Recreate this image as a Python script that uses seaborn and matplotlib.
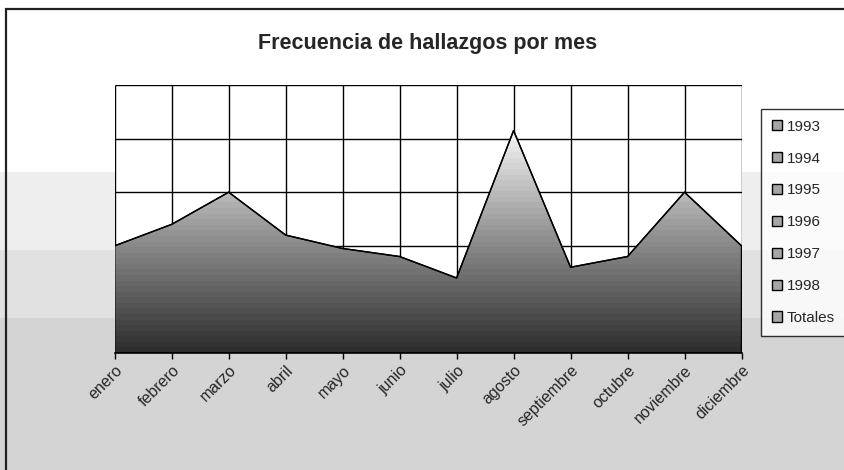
import matplotlib
matplotlib.use("Agg")
import matplotlib.pyplot as plt
import numpy as np
import pandas as pd
import seaborn as sns
from matplotlib.colors import LinearSegmentedColormap
from matplotlib.patches import Patch, Rectangle

meses = ["enero", "febrero", "marzo", "abril", "mayo", "junio", "julio",
         "agosto", "septiembre", "octubre", "noviembre", "diciembre"]
totales = [2.0, 2.4, 3.0, 2.2, 1.95, 1.8, 1.4, 4.15, 1.6, 1.8, 3.0, 2.0]
series = ["1993", "1994", "1995", "1996", "1997", "1998", "Totales"]

sns.set_theme(style="white")
plt.rcParams["font.family"] = ["Liberation Sans", "DejaVu Sans"]

df = pd.DataFrame({"idx": range(len(meses)), "mes": meses, "valor": totales})

fig = plt.figure(figsize=(8.45, 4.70), dpi=100)
fig.patch.set_facecolor("white")

# stepped background bands (old Excel gradient look)
for y0, y1, c in [(0, 152, "#d4d4d4"), (152, 220, "#e1e1e1"), (220, 298, "#eeeeee")]:
    fig.patches.append(Rectangle((0, y0 / 470), 1, (y1 - y0) / 470,
                                 transform=fig.transFigure, facecolor=c,
                                 edgecolor="none", zorder=-10))
fig.patches.append(Rectangle((6 / 845, -0.05), 1.0, (470 - 9) / 470 + 0.05,
                             transform=fig.transFigure, facecolor="none",
                             edgecolor="#222222", linewidth=1.6, zorder=-5))

ax = fig.add_axes([114.7 / 845, 1 - 353 / 470, (741.5 - 114.7) / 845, 268 / 470])
ax.set_facecolor("white")

# gradient fill clipped to the area under the curve
poly = ax.fill_between(df["idx"], 0, df["valor"], facecolor="none",
                       edgecolor="none", zorder=2)
cmap = LinearSegmentedColormap.from_list("g", ["#2e2e2e", "#8c8c8c", "#f4f4f4"])
grad = np.linspace(0, 1, 40).reshape(-1, 1)
img = ax.imshow(grad, extent=[0, 11, 0, max(totales)], origin="lower",
                aspect="auto", cmap=cmap, interpolation="nearest", zorder=2)
img.set_clip_path(poly.get_paths()[0], transform=ax.transData)
ax.fill_between(df["idx"], 0, df["valor"], facecolor="none",
                edgecolor="black", linewidth=1.0, zorder=3)

sns.lineplot(data=df, x="idx", y="valor", color="black", linewidth=1.0,
             ax=ax, zorder=3)

ax.set_xlim(0, 11)
ax.set_ylim(0, 5)
ax.set_xticks(range(len(meses)))
ax.set_xticklabels(meses, rotation=45, ha="right", rotation_mode="anchor",
                   fontsize=11.5)
ax.set_yticks(range(6))
ax.set_yticklabels([])
ax.grid(True, color="black", linewidth=1.0, zorder=0, solid_capstyle="butt")
ax.set_axisbelow(True)
ax.tick_params(axis="x", direction="out", length=4, width=1, color="black",
               bottom=True, pad=3)
ax.tick_params(axis="y", length=0)
for s in ["top", "right", "left"]:
    ax.spines[s].set_visible(False)
ax.spines["bottom"].set_color("black")
ax.spines["bottom"].set_linewidth(1.2)
ax.set_xlabel("")
ax.set_ylabel("")

fig.text(428 / 845, 1 - 44 / 470, "Frecuencia de hallazgos por mes",
         ha="center", va="center", fontsize=15.5, fontweight="bold")

handles = [Patch(facecolor="#a6a6a6", edgecolor="black", linewidth=1.0)
           for _ in series]
leg = fig.legend(handles, series, loc="upper left",
                 bbox_to_anchor=(761 / 845, 1 - 109 / 470), frameon=True,
                 fontsize=11, labelspacing=1.17, handlelength=0.65,
                 handleheight=0.65, handletextpad=0.35, borderpad=0.7,
                 borderaxespad=0, fancybox=False)
leg.get_frame().set_edgecolor("black")
leg.get_frame().set_linewidth(1.0)
leg.get_frame().set_facecolor("white")

fig.savefig("out.png", dpi=100)
